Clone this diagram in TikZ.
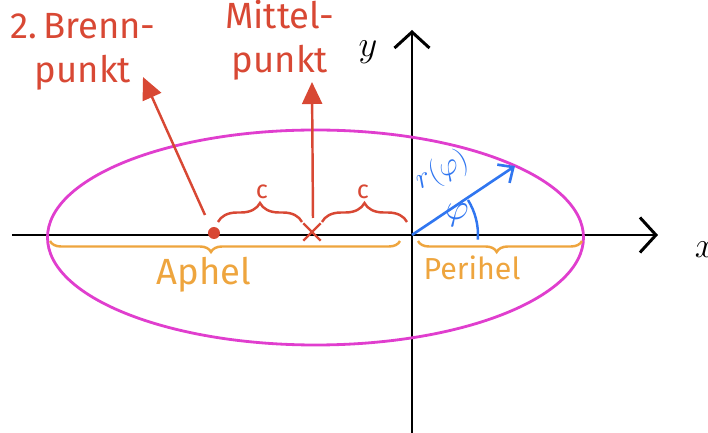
\documentclass[tikz,border=0pt]{standalone}
\usepackage{fontspec}
\setsansfont{Fira Sans}
\usetikzlibrary{arrows.meta,decorations.pathreplacing,shapes.misc}
\definecolor{brennred}{RGB}{216,72,52}
\definecolor{aphelorange}{RGB}{238,165,62}
\definecolor{orbitpink}{RGB}{224,62,206}
\definecolor{radiusblue}{RGB}{48,118,240}
\begin{document}
\begin{tikzpicture}
  \tikzset{
    axis_line/.style={line width=1.7pt, -{Straight Barb[length=3.2mm, width=7mm, line width=1.7pt]}},
    red_arrow/.style={draw=brennred, line width=1.4pt, -{Triangle[length=4.4mm, width=4mm]}},
    red_label/.style={text=brennred, font=\sffamily\huge, align=center, inner sep=1pt},
    red_brace/.style={draw=brennred, line width=1.4pt, decorate, decoration={brace, amplitude=0.38cm}},
    orange_brace/.style={draw=aphelorange, line width=1.4pt, decorate, decoration={brace, mirror, amplitude=0.22cm, aspect=#1}},
    orange_label/.style={text=aphelorange, font=\sffamily\LARGE, inner sep=1pt},
    small_label/.style={font=\sffamily\Large, inner sep=1pt}
  }
  \useasboundingbox (-8.24,-3.96) rectangle (5.92,4.7);

  % Achsen
  \coordinate (x_start) at (-8.0,0);
  \coordinate (x_end) at (4.92,0);
  \coordinate (y_start) at (0,-3.96);
  \coordinate (y_end) at (0,4.1);
  \coordinate (origin) at (0,0);
  \draw[axis_line] (x_start) -- (x_end);
  \draw[axis_line] (y_start) -- (y_end);
  \node[font=\huge, inner sep=0pt] (x_label) at (5.86,-0.3) {$x$};
  \node[font=\huge] (y_label) at (-0.88,3.66) {$y$};

  % Ellipse
  \draw[orbitpink, line width=1.6pt] (-1.93,-0.05) ellipse (5.36cm and 2.15cm);

  % Brennpunkt und Mittelpunkt
  \node[circle, fill=brennred, inner sep=0pt, minimum size=2.4mm] (focus_two) at (-3.96,0.04) {};
  \node[cross out, draw=brennred, line width=1.4pt, inner sep=0pt, minimum size=3mm] (center) at (-2.0,0.06) {};
  \coordinate (focus_foot) at (-4.14,0.4);
  \coordinate (center_foot) at (-1.98,0.34);
  \coordinate (focus_tip) at (-5.38,3.16);
  \coordinate (center_tip) at (-2.0,3.06);
  \draw[red_arrow] (focus_foot) -- (focus_tip);
  \draw[red_arrow] (center_foot) -- (center_tip);
  \node[red_label] (brenn_text) at (-6.58,3.66) {2.\,Brenn-\\punkt};
  \node[red_label] (mittel_text) at (-2.64,3.9) {Mittel-\\punkt};

  % Abstand c
  \coordinate (c1_left) at (-3.88,0.26);
  \coordinate (c1_right) at (-2.2,0.26);
  \coordinate (c2_left) at (-1.8,0.26);
  \coordinate (c2_right) at (-0.1,0.26);
  \draw[red_brace] (c1_left) -- (c1_right);
  \draw[red_brace] (c2_left) -- (c2_right);
  \node[small_label, text=brennred] (c1) at (-3.0,0.86) {c};
  \node[small_label, text=brennred] (c2) at (-0.98,0.86) {c};

  % Aphel und Perihel
  \coordinate (aphel_left) at (-7.24,-0.12);
  \coordinate (aphel_right) at (-0.24,-0.12);
  \coordinate (peri_left) at (0.12,-0.12);
  \coordinate (peri_right) at (3.4,-0.12);
  \draw[orange_brace=0.46] (aphel_left) -- (aphel_right);
  \draw[orange_brace=0.48] (peri_left) -- (peri_right);
  \node[orange_label, font=\sffamily\huge] (aphel) at (-4.16,-0.8) {Aphel};
  \node[orange_label] (perihel) at (1.2,-0.66) {Perihel};

  % Radius r(phi)
  \coordinate (r_tip) at (2.06,1.38);
  \draw[radiusblue, line width=1.5pt, -{Straight Barb[length=2.4mm, width=4.4mm, line width=1.5pt]}] (origin) -- (r_tip);
  \draw[radiusblue, line width=1.4pt] (-4:1.32) arc (-4:32:1.32);
  \node[text=radiusblue, font=\LARGE, rotate=25] (r_label) at (0.6,1.28) {$r(\varphi)$};
  \node[text=radiusblue, font=\huge] (phi_label) at (0.9,0.4) {$\varphi$};
\end{tikzpicture}
\end{document}
